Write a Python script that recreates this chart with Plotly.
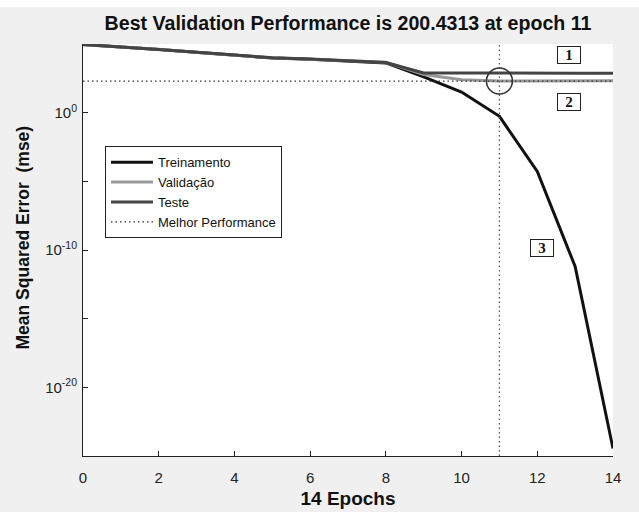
import plotly.graph_objects as go

epochs = list(range(15))
treinamento = [9.1e4, 6.3e4, 4.0e4, 2.5e4, 1.5e4, 9.5e3, 7.9e3, 6.0e3, 4.2e3,
               4.0e2, 3.2e1, 5.4e-1, 5.2e-5, 6.3e-12, 3.5e-25]
validacao = [9.0e4, 6.0e4, 4.1e4, 2.4e4, 1.45e4, 9.8e3, 7.6e3, 6.2e3, 4.6e3,
             6.0e2, 2.5e2, 200.4313, 205, 207, 208]
teste = [9.3e4, 6.4e4, 4.0e4, 2.5e4, 1.5e4, 1.0e4, 8.0e3, 6.3e3, 4.5e3,
         7.8e2, 7.5e2, 7.5e2, 7.5e2, 7.5e2, 7.5e2]
best_epoch = 11
best_perf = 200.4313
x_ticks = [0, 2, 4, 6, 8, 10, 12, 14]
y_ticks = [1e0, 1e-10, 1e-20]
y_ticktext = ["10<sup>0</sup>", "10<sup>-10</sup>", "10<sup>-20</sup>"]
y_range_exp = [-25, 5]
curve_labels = ["1", "2", "3"]

fig = go.Figure()
fig.add_trace(go.Scatter(x=epochs, y=treinamento, mode="lines", name="Treinamento",
                         line=dict(color="#111111", width=3)))
fig.add_trace(go.Scatter(x=epochs, y=validacao, mode="lines", name="Validação",
                         line=dict(color="#999999", width=3)))
fig.add_trace(go.Scatter(x=epochs, y=teste, mode="lines", name="Teste",
                         line=dict(color="#444444", width=3)))
fig.add_trace(go.Scatter(x=[epochs[0], epochs[-1]], y=[best_perf, best_perf], mode="lines",
                         name="Melhor Performance",
                         line=dict(color="#333333", width=1.2, dash="1.5px,3px")))
fig.add_trace(go.Scatter(x=[best_epoch, best_epoch], y=[10**y_range_exp[0], 10**y_range_exp[1]],
                         mode="lines", showlegend=False,
                         line=dict(color="#555555", width=1.2, dash="1.5px,3px")))
fig.add_trace(go.Scatter(x=[best_epoch], y=[best_perf], mode="markers", showlegend=False,
                         marker=dict(symbol="circle-open", size=26,
                                     line=dict(color="#333333", width=1.5), color="#333333")))

# label boxes, positioned in plot-area pixels (from the top of the plot area)
ann_pos = [(12.84, 55), (12.84, 102), (12.12, 248)]
for lab, (ax_, ypix) in zip(curve_labels, ann_pos):
    fig.add_annotation(x=ax_, y=(456 - ypix) / 412, xref="x", yref="paper", text="<b>" + lab + "</b>",
                       showarrow=False, font=dict(family="Liberation Serif", size=15, color="#111111"),
                       bordercolor="#222222", borderwidth=1, borderpad=0, bgcolor="white",
                       width=22, xanchor="center", yanchor="middle")

# y-axis title as annotation (sits slightly above the plot centre in the reference)
fig.add_annotation(x=(23 - 83) / 530, y=(456 - 237.5) / 412, xref="paper", yref="paper",
                   text="<b>Mean Squared Error  (mse)</b>", textangle=-90, showarrow=False,
                   font=dict(size=17.5, color="#111111"), xanchor="center", yanchor="middle")

fig.add_shape(type="rect", xref="paper", yref="paper", x0=-0.2, x1=1.1, y0=1.0898, y1=1.11,
              fillcolor="white", line=dict(width=0), layer="below")

fig.update_layout(
    width=639, height=512,
    paper_bgcolor="#f0f0f0", plot_bgcolor="white",
    margin=dict(l=83, r=26, t=44, b=56, autoexpand=False),
    font=dict(family="Liberation Sans, Arial", size=15, color="#222222"),
    title=dict(text="<b>Best Validation Performance is 200.4313 at epoch 11</b>",
               x=348 / 639, xanchor="center", y=1 - 23 / 512, yanchor="middle", yref="container",
               automargin=False,
               font=dict(size=19.6, color="#111111")),
    legend=dict(x=0.0415, y=0.752, xanchor="left", yanchor="top", bgcolor="white",
                bordercolor="#222222", borderwidth=1, font=dict(size=13, color="#111111"),
                tracegroupgap=0, itemwidth=42),
    showlegend=True,
)
fig.update_xaxes(range=[0, 14], tickvals=x_ticks, ticks="inside", ticklen=5, automargin=False,
                 showgrid=False, zeroline=False, showline=True, linecolor="#222222", linewidth=1,
                 tickcolor="#222222", ticklabelstandoff=8, tickfont=dict(size=15),
                 title=dict(text="<b>14 Epochs</b>", font=dict(size=19, color="#111111"), standoff=6))
fig.update_yaxes(type="log", range=y_range_exp, tickvals=y_ticks, ticktext=y_ticktext,
                 ticks="inside", ticklen=5, showgrid=False, zeroline=False, showline=True,
                 automargin=False, tickfont=dict(size=15), ticklabelstandoff=2,
                 linecolor="#222222", linewidth=1, tickcolor="#222222",
                 minor=dict(tickvals=[1e5, 1e-5, 1e-15], ticks="inside", ticklen=5, tickcolor="#222222"))

fig.write_html("out.html", post_script="document.body.style.margin='0px';",
               config={"displayModeBar": False})
